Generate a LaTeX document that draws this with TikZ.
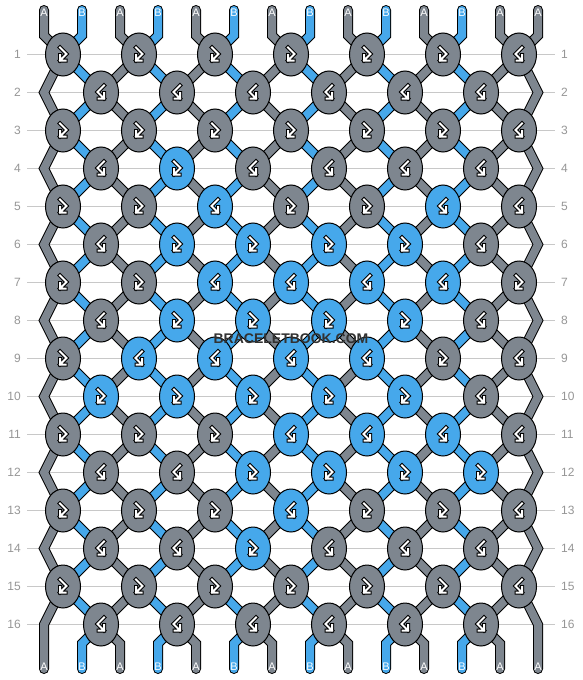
\documentclass[tikz,border=0pt]{standalone}
\usepackage{fontspec}
\setmainfont{Liberation Sans}
\usetikzlibrary{shapes.geometric, backgrounds}
\definecolor{threadgray}{RGB}{126,134,143}
\definecolor{threadblue}{RGB}{70,168,235}
\definecolor{gridgray}{RGB}{200,200,200}
\definecolor{numgray}{RGB}{150,150,150}
\definecolor{markdark}{RGB}{50,50,50}
\tikzstyle{knot} = [ellipse, minimum width=35pt, minimum height=43pt, inner sep=0pt, draw=black, line width=1pt]
\tikzstyle{thread} = [line width=8pt, line cap=round, preaction={draw=black, line width=10pt, line cap=round}]
\tikzstyle{rowline} = [gridgray, line width=1.2pt]
\tikzstyle{rownum} = [text=numgray, font=\fontsize{12}{12}\selectfont, inner sep=0pt]
\tikzstyle{endlabel} = [text=white, font=\fontsize{11}{11}\selectfont, inner sep=0pt]
\tikzstyle{wmark} = [text=markdark, font=\bfseries\fontsize{14}{14}\selectfont, inner sep=0pt]
\newcommand{\markglyph}{%
  \draw[black, line width=4pt, line cap=rect] (-3,-7) -- (3.5,-0.5) -- (-3,6) (-3,0.5) -- (-3,6) -- (2.5,6);
  \draw[white, line width=2pt, line cap=rect] (-3,-7) -- (3.5,-0.5) -- (-3,6) (-3,0.5) -- (-3,6) -- (2.5,6);
}
\tikzset{
  fmark/.pic={\markglyph},
  bmark/.pic={\begin{scope}[xscale=-1]\markglyph\end{scope}}
}

\begin{document}
\begin{tikzpicture}[x=1pt, y=-1pt]

\begin{scope}[on background layer]
\fill[white] (0,0) rectangle (582,680);
\foreach \r in {1,...,16} {
  \pgfmathsetmacro\ry{54.5+38*(\r-1)}
  \draw[rowline] (27,\ry) -- (555,\ry);
}
\end{scope}
\useasboundingbox (0,0) rectangle (582,680);

% row numbers
\foreach \r in {1,...,16} {
  \pgfmathsetmacro\ry{54.5+38*(\r-1)}
  \node[rownum, anchor=east] (numL-\r) at (21,\ry) {\r};
  \node[rownum, anchor=west] (numR-\r) at (561,\ry) {\r};
}

% knots: f = forward-backward, b = backward-forward
\foreach \r/\kinds in {1/{f,f,f,f,f,f,b}, 2/{b,b,b,b,b,b}, 3/{f,f,f,f,f,f,b}, 4/{b,f,b,b,b,b},
    5/{f,f,b,f,f,b,b}, 6/{b,f,f,f,f,b}, 7/{f,f,b,b,b,b,f}, 8/{b,f,f,f,f,b},
    9/{f,b,b,b,b,f,b}, 10/{f,f,f,f,f,b}, 11/{f,f,f,b,b,b,b}, 12/{b,b,f,f,f,f},
    13/{f,f,f,b,f,f,b}, 14/{b,b,f,b,b,b}, 15/{f,f,f,f,f,f,b}, 16/{b,b,b,b,b,b}} {
  \pgfmathsetmacro\ky{54.5+38*(\r-1)}
  \foreach \kind [count=\c] in \kinds {
    \ifodd\r
      \pgfmathsetmacro\kx{63+76*(\c-1)}
      \if\kind f\def\kcol{threadgray}\else\def\kcol{threadblue}\fi
      \ifnum\c=7 \def\kcol{threadgray}\fi
    \else
      \pgfmathsetmacro\kx{101+76*(\c-1)}
      \if\kind f\def\kcol{threadblue}\else\def\kcol{threadgray}\fi
    \fi
    \node[knot, fill=\kcol] (k-\r-\c) at (\kx,\ky) {};
    \if\kind f\pic at (k-\r-\c) {fmark};\else\pic at (k-\r-\c) {bmark};\fi
  }
}

% edge turning points
\foreach \r in {2,4,...,16} {
  \coordinate (edgeL-\r) at (44,{54.5+38*(\r-1)});
  \coordinate (edgeR-\r) at (538,{54.5+38*(\r-1)});
}

\begin{scope}[on background layer]
% threads between knots
\foreach \r in {1,3,...,15} {
  \pgfmathtruncatemacro\rn{\r+1}
  \foreach \c in {1,...,6} {\draw[thread, threadblue] (k-\r-\c.center) -- (k-\rn-\c.center);}
  \foreach \c in {2,...,7} {
    \pgfmathtruncatemacro\cp{\c-1}
    \draw[thread, threadgray] (k-\r-\c.center) -- (k-\rn-\cp.center);
  }
}
\foreach \r in {2,4,...,14} {
  \pgfmathtruncatemacro\rn{\r+1}
  \pgfmathtruncatemacro\rp{\r-1}
  \foreach \c in {1,...,6} {
    \pgfmathtruncatemacro\cn{\c+1}
    \draw[thread, threadblue] (k-\r-\c.center) -- (k-\rn-\c.center);
    \draw[thread, threadgray] (k-\r-\c.center) -- (k-\rn-\cn.center);
  }
  \draw[thread, threadgray] (k-\rp-1.center) -- (edgeL-\r) -- (k-\rn-1.center);
  \draw[thread, threadgray] (k-\rp-7.center) -- (edgeR-\r) -- (k-\rn-7.center);
}

% loose ends, top and bottom
\foreach \i in {1,...,14} {
  \pgfmathsetmacro\sx{44+38*(\i-1)}
  \coordinate (top-\i) at (\sx,10);
  \coordinate (topbend-\i) at (\sx,35.5);
  \coordinate (bot-\i) at (\sx,669);
  \coordinate (botbend-\i) at (\sx,643.5);
  \ifodd\i \def\scol{threadgray}\else\def\scol{threadblue}\fi
  \ifnum\i=14 \def\scol{threadgray}\fi
  \pgfmathtruncatemacro\ct{(\i+1)/2}
  \draw[thread, \scol] (top-\i) -- (topbend-\i) -- (k-1-\ct.center);
  \ifnum\i=1
    \draw[thread, \scol] (k-15-1.center) -- (edgeL-16) -- (bot-\i);
  \else\ifnum\i=14
    \draw[thread, \scol] (k-15-7.center) -- (edgeR-16) -- (bot-\i);
  \else
    \pgfmathtruncatemacro\cb{\i/2}
    \draw[thread, \scol] (k-16-\cb.center) -- (botbend-\i) -- (bot-\i);
  \fi\fi
}
\end{scope}

% thread letters
\foreach \i in {1,...,14} {
  \ifodd\i \def\slab{A}\else\def\slab{B}\fi
  \ifnum\i=14 \def\slab{A}\fi
  \node[endlabel] (labT-\i) at ([yshift=-2.5pt]top-\i) {\slab};
  \node[endlabel] (labB-\i) at ([yshift=2pt]bot-\i) {\slab};
}

\node[wmark] (watermark) at (291,339) {BRACELETBOOK.COM};

\end{tikzpicture}
\end{document}
